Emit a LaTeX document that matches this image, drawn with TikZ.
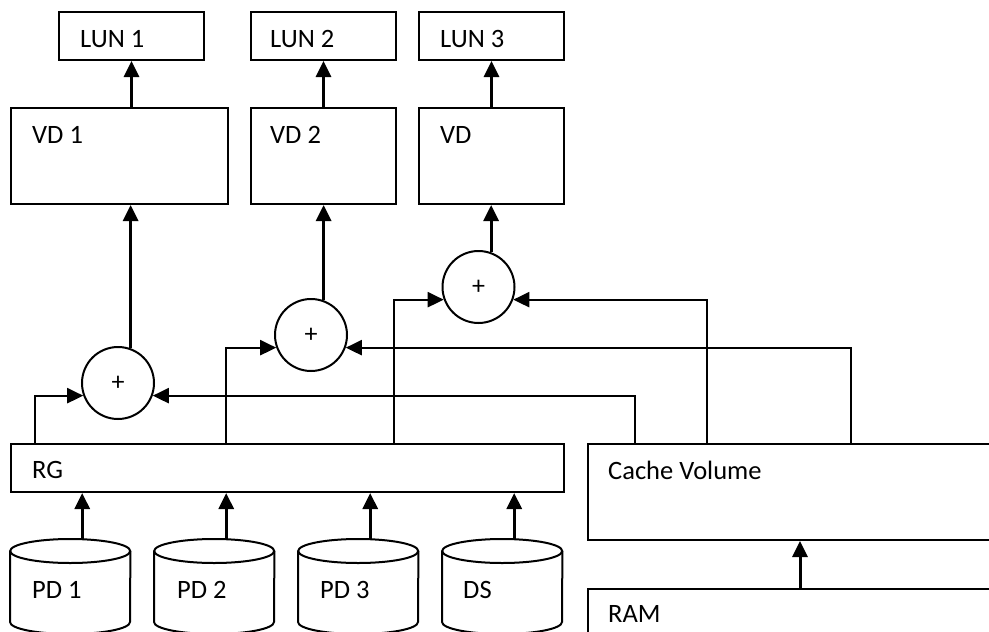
\documentclass[tikz,border=0pt]{standalone}
\usepackage{fontspec}
\setmainfont{Carlito}
\usetikzlibrary{arrows.meta,calc}
\begin{document}
\begin{tikzpicture}[x=1pt,y=-1pt,
  bx/.style={draw, line width=2pt, inner sep=0pt, anchor=north west},
  hid/.style={inner sep=0pt, anchor=north west, minimum width=120pt, minimum height=95pt},
  txt/.style={anchor=base west, inner sep=0pt, font=\fontsize{26.5}{30}\selectfont},
  arr/.style={line width=3pt, -{Triangle[length=16pt,width=15pt]}},
  conn/.style={line width=2.2pt, -{Triangle[length=16pt,width=15pt]}},
  sumnode/.style={circle, draw, line width=2pt, minimum size=72pt, inner sep=0pt, font=\fontsize{26}{28}\selectfont},
  cyl/.style={line width=2pt}]
\useasboundingbox (0,0) rectangle (989,632);
\clip (0,0) rectangle (989,632);

% boxes
\node[bx, minimum width=145pt, minimum height=48pt] (lun1) at (58,11) {};
\node[bx, minimum width=145pt, minimum height=48pt] (lun2) at (250,11) {};
\node[bx, minimum width=145pt, minimum height=48pt] (lun3) at (418,11) {};
\node[bx, minimum width=217pt, minimum height=96pt] (vd1) at (10,107) {};
\node[bx, minimum width=145pt, minimum height=96pt] (vd2) at (250,107) {};
\node[bx, minimum width=145pt, minimum height=96pt] (vd3) at (418,107) {};
\node[bx, minimum width=553pt, minimum height=48pt] (rg) at (10,443) {};
\node[bx, minimum width=420pt, minimum height=96pt] (cv) at (587,443) {};
\node[bx, minimum width=420pt, minimum height=60pt] (ram) at (587,588) {};

% texts
\node[txt] (tlun1) at ($(lun1.north west)+(22,36)$) {LUN 1};
\node[txt] (tlun2) at ($(lun2.north west)+(20,36)$) {LUN 2};
\node[txt] (tlun3) at ($(lun3.north west)+(22,36)$) {LUN 3};
\node[txt] (tvd1) at ($(vd1.north west)+(22,36)$) {VD 1};
\node[txt] (tvd2) at ($(vd2.north west)+(20,36)$) {VD 2};
\node[txt] (tvd3) at ($(vd3.north west)+(22,36)$) {VD};
\node[txt] (trg) at ($(rg.north west)+(22,35)$) {RG};
\node[txt] (tcv) at ($(cv.north west)+(21,36)$) {Cache Volume};
\node[txt] (tram) at ($(ram.north west)+(21,34)$) {RAM};

% cylinders
\node[hid] (pd1) at (10,539) {};
\node[hid] (pd2) at (154,539) {};
\node[hid] (pd3) at (298,539) {};
\node[hid] (ds) at (442,539) {};
\foreach \n in {pd1,pd2,pd3,ds}{
  \draw[cyl] ($(\n.north west)+(0,12)$) -- ($(\n.north west)+(0,83)$)
     arc[start angle=180, end angle=360, x radius=60pt, y radius=12pt]
     -- ($(\n.north east)+(0,12)$);
  \draw[cyl] ($(\n.north)+(0,12)$) ellipse[x radius=60pt, y radius=12pt];
}
\node[txt] (tpd1) at ($(pd1.north west)+(22,59)$) {PD 1};
\node[txt] (tpd2) at ($(pd2.north west)+(23,59)$) {PD 2};
\node[txt] (tpd3) at ($(pd3.north west)+(22,59)$) {PD 3};
\node[txt] (tds) at ($(ds.north west)+(21,59)$) {DS};

% summing junctions
\node[sumnode] (c1) at (118,383) {+};
\node[sumnode] (c2) at (311,335) {+};
\node[sumnode] (c3) at (478.5,287) {+};

% VD -> LUN
\draw[arr] (lun1.south |- vd1.north) -- (lun1.south);
\draw[arr] (lun2.south |- vd2.north) -- (lun2.south);
\draw[arr] (lun3.south |- vd3.north) -- (lun3.south);

% circles -> VD
\draw[arr] (c1.70) -- (c1.70 |- vd1.south);
\draw[arr] (c2.70) -- (c2.70 |- vd2.south);
\draw[arr] (c3.70) -- (c3.70 |- vd3.south);

% inputs
\coordinate (rgA) at ($(rg.north west)+(25,0)$);
\coordinate (rgB) at ($(rg.north west)+(216,0)$);
\coordinate (rgC) at ($(rg.north west)+(384,0)$);
\coordinate (cvA) at ($(cv.north west)+(48,0)$);
\coordinate (cvB) at ($(cv.north west)+(120,0)$);
\coordinate (cvC) at ($(cv.north west)+(264,0)$);
\draw[conn] (rgA) |- (c1.200);
\draw[conn] (cvA) |- (c1.340);
\draw[conn] (rgB) |- (c2.200);
\draw[conn] (cvC) |- (c2.340);
\draw[conn] (rgC) |- (c3.200);
\draw[conn] (cvB) |- (c3.340);

% PD -> RG
\foreach \n/\m in {pd1/p1,pd2/p2,pd3/p3,ds/p4}{
  \coordinate (\m) at ($(\n.north)+(12,0)$);
  \draw[arr] (\m) -- (\m |- rg.south);
}
% RAM -> Cache
\coordinate (r1) at ($(ram.north west)+(213,0)$);
\draw[arr] (r1) -- (r1 |- cv.south);
\end{tikzpicture}
\end{document}
